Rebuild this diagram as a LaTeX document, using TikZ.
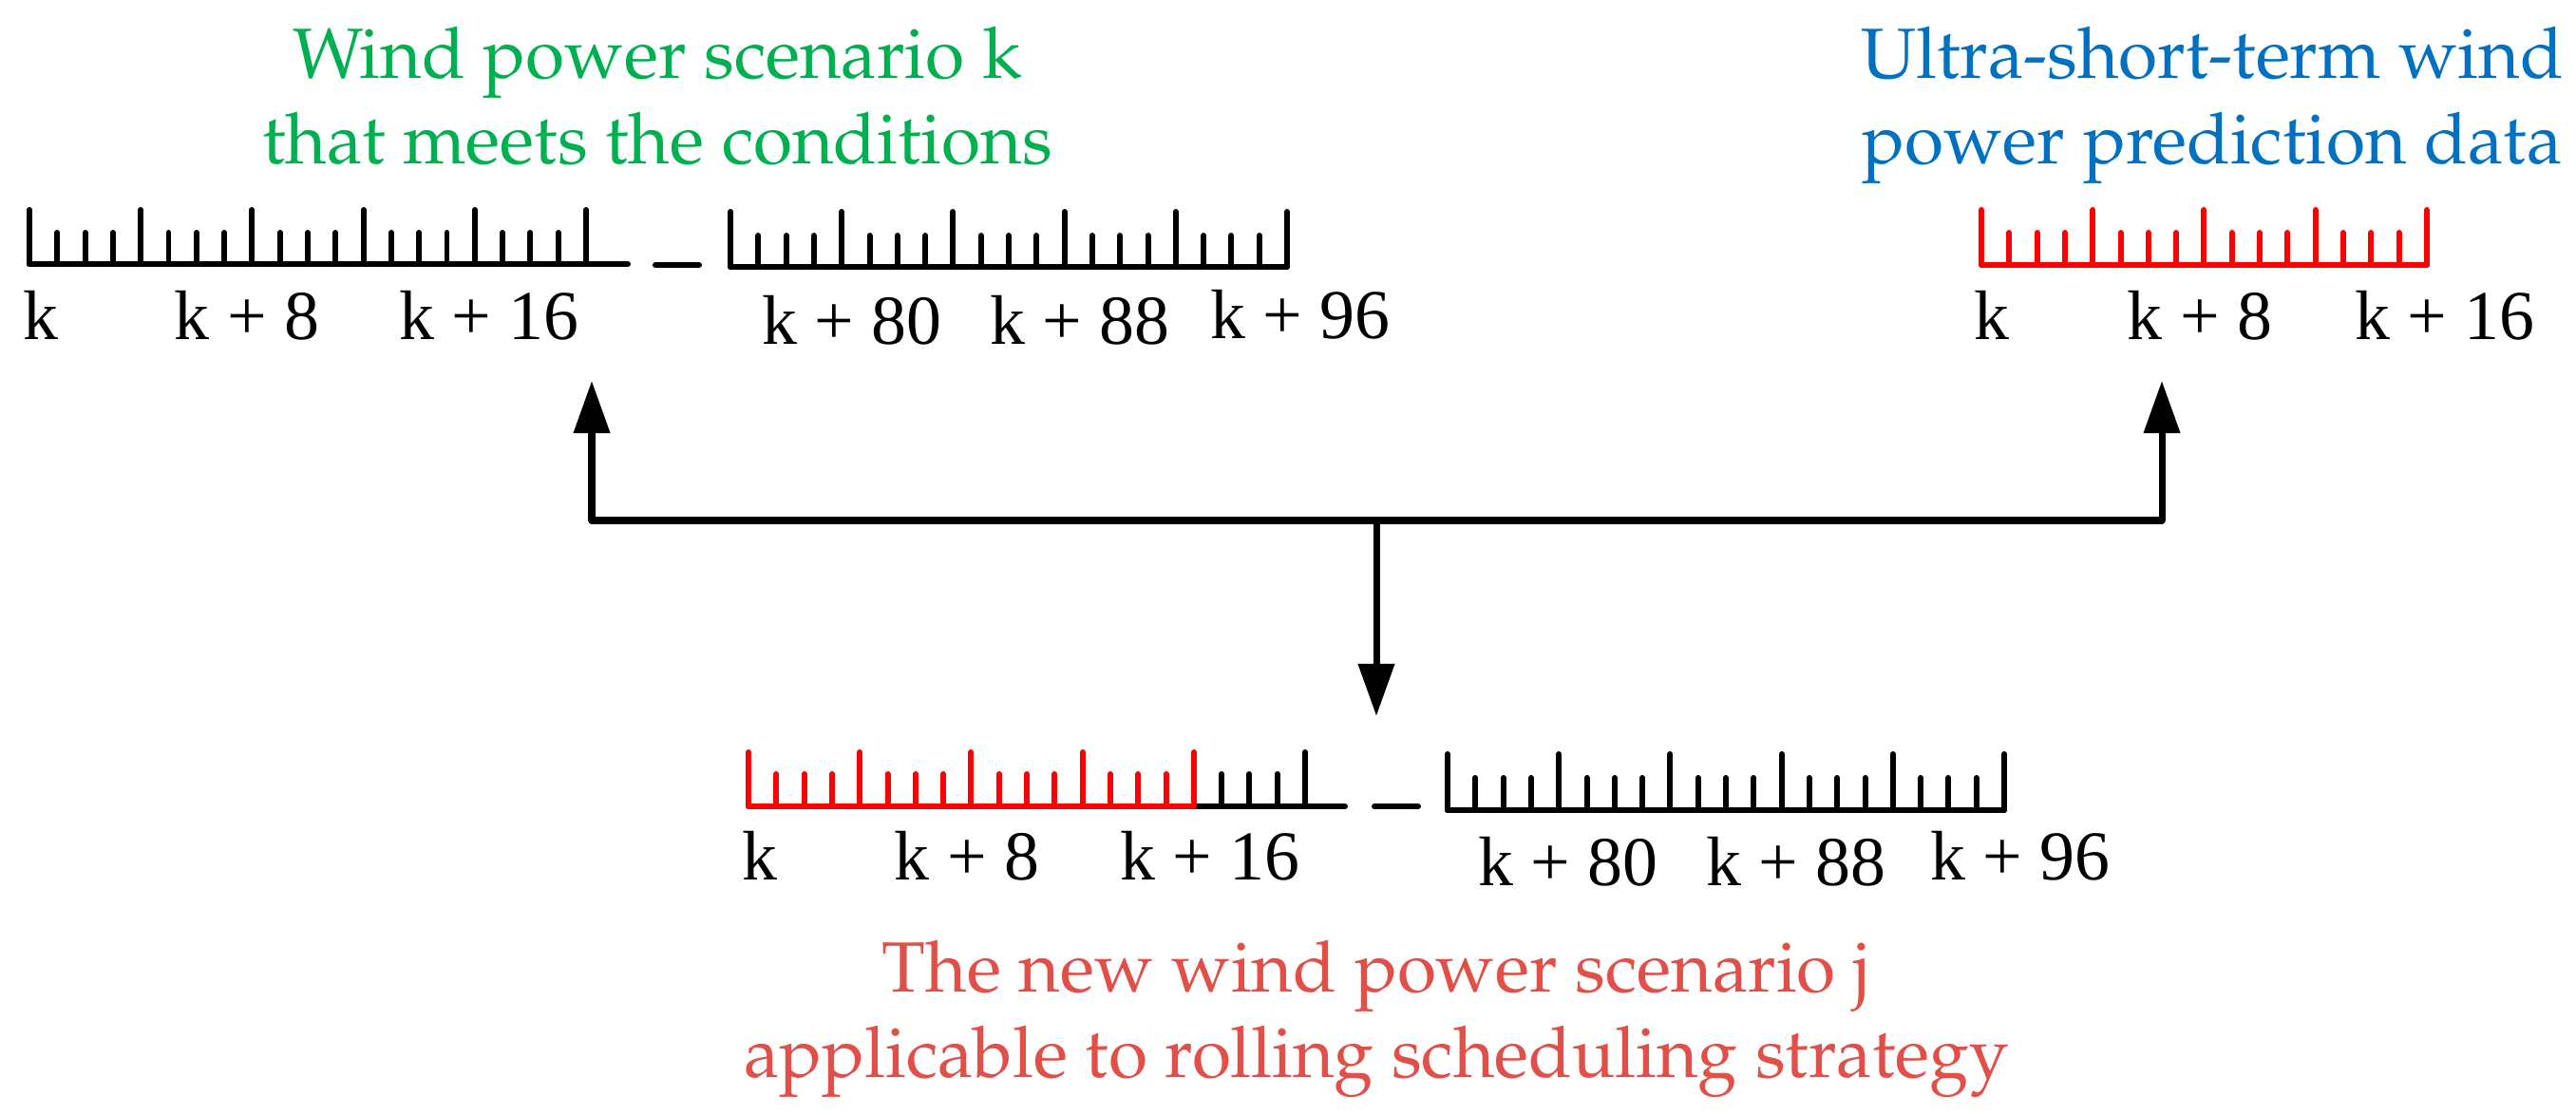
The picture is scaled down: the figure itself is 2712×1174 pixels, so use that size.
\documentclass[tikz,border=0pt]{standalone}
\usepackage[T1]{fontenc}
\usepackage{fontspec}
\setmainfont{Liberation Serif}
\usetikzlibrary{arrows.meta}
\newcommand\palfont{\fontencoding{T1}\fontfamily{ppl}\selectfont}
\definecolor{tgreen}{RGB}{0,176,80}
\definecolor{tblue}{RGB}{0,112,192}
\definecolor{tred}{RGB}{224,80,72}
\definecolor{rred}{RGB}{255,0,0}
\tikzset{
  ttl/.style={font=\palfont\fontsize{21.3}{25.6}\selectfont, inner sep=0pt, anchor=base},
  lab/.style={font=\fontsize{21}{25}\selectfont, inner sep=0pt, anchor=base},
  rul/.style={line width=1.7pt, line cap=round, line join=round},
  conn/.style={line width=2pt, line join=round},
  tip/.tip={Triangle[length=5.5mm,width=3.7mm]},
}
% #1 x0, #2 baseline y, #3 tall top, #4 short top, #5 first index, #6 last index,
% #7 colour, #8 baseline start x, #9 baseline end x
\newcommand\myruler[9]{%
  \foreach \i in {#5,...,#6}{%
    \pgfmathsetmacro\tx{#1+29.3*\i}%
    \pgfmathsetmacro\ty{mod(\i,4)==0 ? #3 : #4}%
    \draw[rul,#7] (\tx,#2) -- (\tx,\ty);%
  }%
  \draw[rul,#7] (#8,#2) -- (#9,#2);%
}
\begin{document}
\begin{tikzpicture}[x=0.01cm,y=-0.01cm]
\useasboundingbox (0,0) rectangle (2712,1174);

% ---- titles
\node[ttl, text=tgreen] (g1) at (692,83) {Wind power scenario k};
\node[ttl, text=tgreen] (g2) at (692,173) {that meets the conditions};
\node[ttl, text=tblue] (b1) at (2329,83) {Ultra-short-term wind};
\node[ttl, text=tblue] (b2) at (2329,173) {power prediction data};
\node[ttl, text=tred] (r1) at (1449,1045) {The new wind power scenario j};
\node[ttl, text=tred] (r2) at (1449,1135) {applicable to rolling scheduling strategy};

% ---- top-left scenario rulers
\myruler{31}{278}{221}{245}{0}{20}{black}{31}{661}
\draw[rul] (690,279) -- (736,279);
\myruler{769}{281}{223}{248}{0}{20}{black}{769}{1355}
\node[lab] (a0) at (43,358) {k};
\node[lab] (a8) at (260,358) {k + 8};
\node[lab] (a16) at (515,358) {k + 16};
\node[lab] (a80) at (897,363) {k + 80};
\node[lab] (a88) at (1137,363) {k + 88};
\node[lab] (a96) at (1369,357) {k + 96};

% ---- top-right prediction ruler
\myruler{2086}{279}{221}{245}{0}{16}{rred}{2086}{2555}
\node[lab] (c0) at (2097,358) {k};
\node[lab] (c8) at (2316,358) {k + 8};
\node[lab] (c16) at (2574,358) {k + 16};

% ---- bottom new scenario rulers
\myruler{788}{849}{792}{815}{17}{20}{black}{1256}{1416}
\myruler{788}{849}{792}{815}{0}{16}{rred}{788}{1256}
\draw[rul] (1447,849) -- (1493,849);
\myruler{1524}{853}{794}{819}{0}{20}{black}{1524}{2110}
\node[lab] (d0) at (800,927) {k};
\node[lab] (d8) at (1018,927) {k + 8};
\node[lab] (d16) at (1274,927) {k + 16};
\node[lab] (d80) at (1651,933) {k + 80};
\node[lab] (d88) at (1891,933) {k + 88};
\node[lab] (d96) at (2127,927) {k + 96};

% ---- connectors
\coordinate (jL) at (623,548);
\coordinate (jR) at (2276,548);
\coordinate (jM) at (1449,548);
\coordinate (tipL) at (623,401);
\coordinate (tipR) at (2276,401);
\coordinate (tipD) at (1449,754);
\draw[conn, tip-tip] (tipL) -- (jL) -- (jR) -- (tipR);
\draw[conn, -tip] (jM) -- (tipD);
\end{tikzpicture}
\end{document}
